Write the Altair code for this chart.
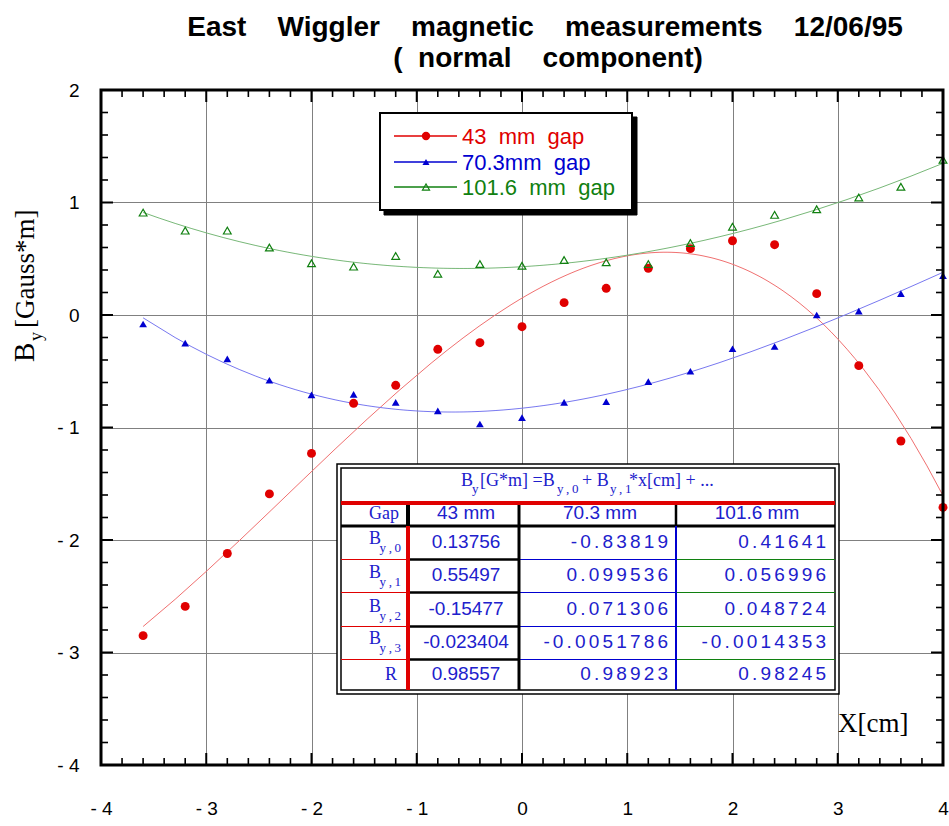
import altair as alt
import pandas as pd

# ---------------- data ----------------
X_CM = [-3.6, -3.2, -2.8, -2.4, -2.0, -1.6, -1.2, -0.8, -0.4, 0.0,
        0.4, 0.8, 1.2, 1.6, 2.0, 2.4, 2.8, 3.2, 3.6, 4.0]
GAP_43 = [-2.85, -2.59, -2.12, -1.59, -1.23, -0.785, -0.625, -0.305, -0.246, -0.104,
          0.11, 0.237, 0.415, 0.59, 0.66, 0.625, 0.19, -0.45, -1.12, -1.71]
GAP_70 = [-0.08, -0.25, -0.39, -0.58, -0.71, -0.705, -0.776, -0.853, -0.969, -0.913,
          -0.776, -0.77, -0.593, -0.50, -0.30, -0.28, 0.0, 0.035, 0.19, 0.35]
GAP_101 = [0.91, 0.75, 0.75, 0.60, 0.46, 0.43, 0.525, 0.367, 0.453, 0.438,
           0.489, 0.468, 0.453, 0.64, 0.785, 0.89, 0.94, 1.045, 1.14, 1.38]
SERIES = ["43 mm gap", "70.3mm gap", "101.6 mm gap"]
X_TICKS = [-4, -3, -2, -1, 0, 1, 2, 3, 4]
Y_TICKS = [-4, -3, -2, -1, 0, 1, 2]

TABLE_HEAD = ["43 mm", "70.3 mm", "101.6 mm"]
TABLE_SUBS = ["y,0", "y,1", "y,2", "y,3"]
COEF_43 = ["0.13756", "0.55497", "-0.15477", "-0.023404", "0.98557"]
COEF_70 = ["-0.83819", "0.099536", "0.071306", "-0.0051786", "0.98923"]
COEF_101 = ["0.41641", "0.056996", "0.048724", "-0.0014353", "0.98245"]

# ---------------- styling ----------------
PT_COL = ["#e00000", "#0000d0", "#108010"]
LN_COL = ["#f07070", "#7878f0", "#78b878"]
TXT_BLUE = "#2020cc"
OX, OY = 101, 90          # plot origin in page pixels
W, H = 842, 675
NB = "\u00a0"
TS = "\u2009"
SP6 = "\u2006"

rows = []
for s, vals in zip(SERIES, [GAP_43, GAP_70, GAP_101]):
    for xv, yv in zip(X_CM, vals):
        rows.append({"x": xv, "y": yv, "s": s})
df = pd.DataFrame(rows)

xs = alt.Scale(domain=[-4, 4], nice=False, zero=False)
ys = alt.Scale(domain=[-4, 2], nice=False, zero=False)
neg = "datum.value < 0 ? '- ' + format(-datum.value, 'd') : datum.label"
xaxis = alt.Axis(values=X_TICKS, title=None, grid=True, gridColor="#808080", gridWidth=1,
                 ticks=False, tickSize=0, domain=False, labelExpr=neg,
                 labelFont="Liberation Sans", labelFontSize=19, labelColor="black",
                 labelPadding=34, labelFlush=False)
yaxis = alt.Axis(values=Y_TICKS, title=None, grid=True, gridColor="#808080", gridWidth=1,
                 ticks=False, tickSize=0, domain=False, labelExpr=neg,
                 labelFont="Liberation Sans", labelFontSize=19, labelColor="black",
                 labelPadding=22, labelFlush=False, labelBaseline="middle")
EX = alt.X("x:Q", scale=xs, axis=xaxis)
EY = alt.Y("y:Q", scale=ys, axis=yaxis)

layers = []
# fitted cubic curves (computed by Vega-Lite's regression transform)
for s, c in zip(SERIES, LN_COL):
    layers.append(
        alt.Chart(df).transform_filter(alt.datum.s == s)
        .transform_regression("x", "y", method="poly", order=3)
        .mark_line(color=c, strokeWidth=1).encode(x=EX, y=EY))
# measured points
layers.append(alt.Chart(df).transform_filter(alt.datum.s == SERIES[0])
              .mark_point(shape="circle", filled=True, size=80, color=PT_COL[0], opacity=1)
              .encode(x=EX, y=EY))
layers.append(alt.Chart(df).transform_filter(alt.datum.s == SERIES[1])
              .mark_point(shape="triangle-up", filled=True, size=60, color=PT_COL[1], opacity=1)
              .encode(x=EX, y=EY))
layers.append(alt.Chart(df).transform_filter(alt.datum.s == SERIES[2])
              .mark_point(shape="triangle-up", filled=False, size=60, color=PT_COL[2],
                          strokeWidth=1.2, opacity=1)
              .encode(x=EX, y=EY))

# inward tick marks
major_x = pd.DataFrame({"x": X_TICKS})
minor_x = pd.DataFrame({"x": [i / 5 for i in range(-20, 21) if i % 5]})
major_y = pd.DataFrame({"y": Y_TICKS})
minor_y = pd.DataFrame({"y": [i / 5 for i in range(-20, 11) if i % 5]})
for d, ln, wd in [(major_x, 12, 2), (minor_x, 7, 1.6)]:
    layers.append(alt.Chart(d).mark_rule(color="black", strokeWidth=wd)
                  .encode(x=EX, y=alt.value(0), y2=alt.value(ln)))
    layers.append(alt.Chart(d).mark_rule(color="black", strokeWidth=wd)
                  .encode(x=EX, y=alt.value(H), y2=alt.value(H - ln)))
for d, ln, wd in [(major_y, 12, 2), (minor_y, 7, 1.6)]:
    layers.append(alt.Chart(d).mark_rule(color="black", strokeWidth=wd)
                  .encode(y=EY, x=alt.value(0), x2=alt.value(ln)))
    layers.append(alt.Chart(d).mark_rule(color="black", strokeWidth=wd)
                  .encode(y=EY, x=alt.value(W), x2=alt.value(W - ln)))


# ---------------- helpers for annotation (page pixel positions) ----------------
def rects(items, fill, stroke, sw):
    d = pd.DataFrame(items, columns=["x1", "y1", "x2", "y2"])
    d[["x1", "x2"]] -= OX
    d[["y1", "y2"]] -= OY
    return alt.Chart(d).mark_rect(fill=fill, stroke=stroke, strokeWidth=sw).encode(
        x=alt.X("x1:Q", scale=None, axis=None), x2="x2:Q",
        y=alt.Y("y1:Q", scale=None, axis=None), y2="y2:Q")


def rules(items):
    d = pd.DataFrame(items, columns=["x1", "y1", "x2", "y2", "c", "w"])
    d[["x1", "x2"]] -= OX
    d[["y1", "y2"]] -= OY
    return alt.Chart(d).mark_rule().encode(
        x=alt.X("x1:Q", scale=None, axis=None), x2="x2:Q",
        y=alt.Y("y1:Q", scale=None, axis=None), y2="y2:Q",
        color=alt.Color("c:N", scale=None),
        strokeWidth=alt.StrokeWidth("w:Q", scale=None))


def texts(items, font, align="left", weight="normal", angle=0):
    d = pd.DataFrame(items, columns=["px", "py", "t", "fs", "c"])
    d["px"] -= OX
    d["py"] -= OY
    return alt.Chart(d).mark_text(font=font, align=align, baseline="alphabetic",
                                  fontWeight=weight, angle=angle).encode(
        x=alt.X("px:Q", scale=None, axis=None), y=alt.Y("py:Q", scale=None, axis=None),
        text="t:N", color=alt.Color("c:N", scale=None),
        size=alt.Size("fs:Q", scale=None))


ONE = pd.DataFrame({"a": [0]})

# ---------------- legend ----------------
LEG_Y = [136, 162, 187]
layers.append(rects([(384, 117, 637, 215)], "black", "black", 1))
layers.append(rects([(380, 113, 632, 210)], "white", "black", 2))
layers.append(rules([(394, yy, 457, yy, c, 1.3) for yy, c in zip(LEG_Y, PT_COL)]))
layers.append(alt.Chart(ONE).mark_point(shape="circle", filled=True, size=70, color=PT_COL[0], opacity=1)
              .encode(x=alt.value(426 - OX), y=alt.value(LEG_Y[0] - OY)))
layers.append(alt.Chart(ONE).mark_point(shape="triangle-up", filled=True, size=50, color=PT_COL[1], opacity=1)
              .encode(x=alt.value(426 - OX), y=alt.value(LEG_Y[1] - OY)))
layers.append(alt.Chart(ONE).mark_point(shape="triangle-up", filled=False, size=50, color=PT_COL[2],
                                        strokeWidth=1.2, opacity=1)
              .encode(x=alt.value(426 - OX), y=alt.value(LEG_Y[2] - OY)))
LEG_TXT = [s.replace(" ", NB * 2) for s in SERIES]
layers.append(texts([(462, yy + 8, t, 22, c) for yy, t, c in zip(LEG_Y, LEG_TXT, PT_COL)],
                    "Liberation Sans"))

# ---------------- table ----------------
ROW_BOT = [559.5, 592.5, 626.5, 659.5]
layers.append(rects([(337, 464, 839, 694)], "white", "black", 1.5))
layers.append(rects([(341, 468, 835, 690)], "white", "black", 1.5))
tl = [(341, 503, 835, 503, "#e00000", 4), (341, 526, 835, 526, "black", 3)]
for yy in ROW_BOT:
    tl += [(341, yy, 407, yy, "#e00000", 1), (407, yy, 520, yy, "black", 2.5),
           (520, yy, 676, yy, "#0000d0", 1), (676, yy, 835, yy, "#108010", 1)]
tl += [(408, 505, 408, 526, "black", 4), (408, 526, 408, 690, "#e00000", 4),
       (519, 505, 519, 690, "black", 3),
       (676, 505, 676, 526, "black", 2.5), (676, 526, 676, 690, "#0000d0", 2)]
layers.append(rules(tl))

# header formula (Times)
hdr = [(461, 486, "B", 18, TXT_BLUE), (472, 493, "y", 13, TXT_BLUE),
       (480, 486, "[G*m]" + NB + "=B", 18, TXT_BLUE),
       (557, 493, "y" + TS + "," + TS + "0", 13, TXT_BLUE),
       (582, 486, "+" + NB + "B", 18, TXT_BLUE),
       (610, 493, "y" + TS + "," + TS + "1", 13, TXT_BLUE),
       (629, 486, "*x[cm]" + NB + "+" + NB + "...", 18, TXT_BLUE)]
layers.append(texts(hdr, "Liberation Serif"))

ROW_BASE = [544, 578, 612, 644]
lab_r = [(399, 519, "Gap", 18, TXT_BLUE), (397, 680, "R", 18, TXT_BLUE)]
for yb, sub in zip(ROW_BASE, TABLE_SUBS):
    lab_r.append((381, yb, "B", 18, TXT_BLUE))
    lab_r.append((401, yb + 8, sub.replace(",", TS + "," + TS), 13, TXT_BLUE))
layers.append(texts(lab_r, "Liberation Serif", align="right"))

NUM_BASE = [548, 581, 615, 648, 680]
num_c = [(466, 519, TABLE_HEAD[0], 19, TXT_BLUE), (600, 519, TABLE_HEAD[1], 19, TXT_BLUE),
         (757, 519, TABLE_HEAD[2], 19, TXT_BLUE)]
num_c += [(466, yb, v, 19, TXT_BLUE) for yb, v in zip(NUM_BASE, COEF_43)]
layers.append(texts(num_c, "Liberation Sans", align="center"))
num_r = [(668, yb, SP6.join(v), 19, TXT_BLUE) for yb, v in zip(NUM_BASE, COEF_70)]
num_r += [(826, yb, SP6.join(v), 19, TXT_BLUE) for yb, v in zip(NUM_BASE, COEF_101)]
layers.append(texts(num_r, "Liberation Sans", align="right"))

# ---------------- frame ----------------
layers.append(alt.Chart(ONE).mark_rect(fill=None, stroke="black", strokeWidth=3)
              .encode(x=alt.value(0), x2=alt.value(W), y=alt.value(0), y2=alt.value(H)))

# ---------------- titles & axis names ----------------
t1 = (NB * 4).join(["East", "Wiggler", "magnetic", "measurements", "12/06/95"])
t2 = "(" + NB * 2 + "normal" + NB * 4 + "component)"
layers.append(texts([(545, 36, t1, 28, "black"), (548, 67, t2, 28, "black")],
                    "Liberation Sans", align="center", weight="bold"))
layers.append(texts([(838, 732, "X[cm]", 27, "black")], "Liberation Serif"))
layers.append(texts([(34, 362, "B", 29, "black"), (42, 341, "y", 18, "black"),
                     (34, 328, "[Gauss*m]", 27, "black")],
                    "Liberation Serif", angle=270))

chart = alt.layer(*layers).properties(
    width=W, height=H, autosize="none",
    padding={"left": OX, "top": OY, "right": 949 - OX - W, "bottom": 826 - OY - H},
    background="white",
).configure_view(stroke=None)

chart.save("out.html", embed_options={"renderer": "svg", "actions": False})
